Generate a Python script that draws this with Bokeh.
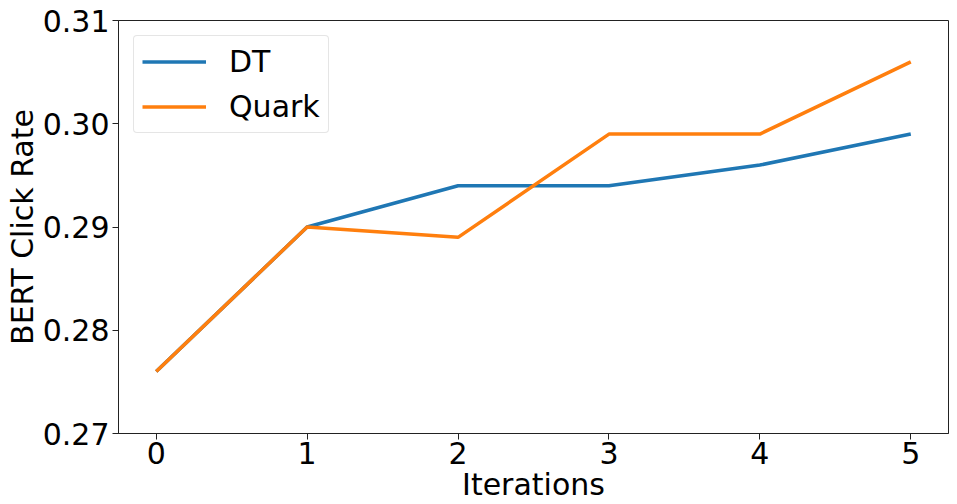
from bokeh.plotting import figure
from bokeh.embed import file_html
from bokeh.resources import INLINE
from bokeh.models import Range1d, FixedTicker, Legend, LegendItem

iterations = [0, 1, 2, 3, 4, 5]
dt_values = [0.276, 0.290, 0.294, 0.294, 0.296, 0.299]
quark_values = [0.276, 0.290, 0.289, 0.299, 0.299, 0.306]
y_ticks = [0.27, 0.28, 0.29, 0.30, 0.31]
y_tick_labels = {0.27: "0.27", 0.28: "0.28", 0.29: "0.29", 0.30: "0.30", 0.31: "0.31"}

FONT = "DejaVu Sans"

p = figure(width=950, height=504, output_backend="svg", toolbar_location=None,
           x_range=Range1d(-0.25, 5.25), y_range=Range1d(0.27, 0.31),
           min_border_left=118, min_border_top=20, min_border_right=2, min_border_bottom=60)

r1 = p.line(iterations, dt_values, line_color="#1f77b4", line_width=3.5)
r2 = p.line(iterations, quark_values, line_color="#ff7f0e", line_width=3.5)

p.xgrid.visible = False
p.ygrid.visible = False
p.outline_line_color = "#222222"
p.outline_line_width = 1

p.xaxis.ticker = FixedTicker(ticks=iterations)
p.yaxis.ticker = FixedTicker(ticks=y_ticks)
p.yaxis.major_label_overrides = y_tick_labels
for ax in (p.xaxis, p.yaxis):
    ax.axis_line_color = "#222222"
    ax.major_tick_line_color = "#222222"
    ax.major_tick_in = 0
    ax.major_tick_out = 6
    ax.minor_tick_line_color = None
    ax.major_label_text_font = FONT
    ax.major_label_text_font_size = "30px"
    ax.major_label_text_color = "black"
    ax.axis_label_text_font = FONT
    ax.axis_label_text_font_size = "30px"
    ax.axis_label_text_font_style = "normal"
    ax.axis_label_text_color = "black"

p.xaxis.axis_label = "Iterations"
p.yaxis.axis_label = "BERT Click Rate"
p.xaxis.major_label_standoff = 2
p.yaxis.major_label_standoff = 3
p.xaxis.axis_label_standoff = 0
p.yaxis.axis_label_standoff = 0

legend = Legend(items=[LegendItem(label="DT", renderers=[r1]),
                       LegendItem(label="Quark", renderers=[r2])],
                location="top_left")
legend.label_text_font = FONT
legend.label_text_font_size = "30px"
legend.label_text_color = "black"
legend.glyph_width = 64
legend.glyph_height = 35
legend.label_standoff = 23
legend.spacing = 10
legend.padding = 8
legend.margin = 15
legend.border_line_color = "#cccccc"
legend.border_line_width = 1
legend.border_radius = 4
legend.background_fill_alpha = 0.8
p.add_layout(legend)

open("out.html", "w").write(file_html(p, INLINE))
